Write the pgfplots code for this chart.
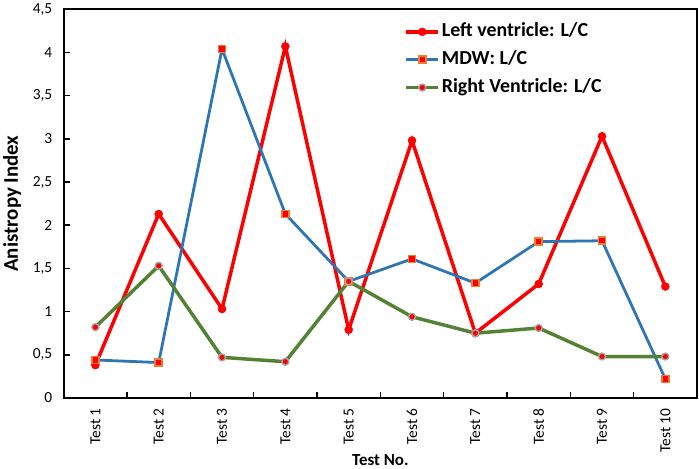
\documentclass[border=0pt]{standalone}
\usepackage{fontspec}
\setmainfont{Carlito}
\usepackage{pgfplots}
\pgfplotsset{compat=1.18}
\definecolor{cred}{RGB}{255,0,0}
\definecolor{cblue}{RGB}{46,117,182}
\definecolor{cgreen}{RGB}{84,130,53}
\definecolor{corange}{RGB}{237,125,49}
\definecolor{cgray}{RGB}{165,165,165}
\begin{document}
\begin{tikzpicture}
\begin{axis}[
  scale only axis,
  width=637pt, height=391pt,
  xmin=0.5, xmax=10.5,
  ymin=0, ymax=4.5,
  xtick={1,...,10},
  xticklabels={Test 1,Test 2,Test 3,Test 4,Test 5,Test 6,Test 7,Test 8,Test 9,Test 10},
  minor xtick={1.5,2.5,...,9.5},
  ytick={0,0.5,...,4.5},
  xtick pos=bottom, ytick pos=left,
  major x tick style={draw=none},
  minor x tick style={black, line width=1.6pt},
  minor tick length=6pt,
  major y tick style={black, line width=1.6pt},
  major tick length=6pt,
  tick align=inside,
  axis line style={black, line width=1.8pt},
  /pgf/number format/assume math mode=true,
  /pgf/number format/use comma,
  /pgf/number format/fixed,
  /pgf/number format/precision=1,
  yticklabel style={font=\fontsize{15.5}{18}\selectfont, xshift=-8pt},
  xticklabel style={font=\fontsize{15.5}{18}\selectfont, yshift=-7pt, rotate=90, anchor=east},
  xlabel={\textbf{Test No.}},
  ylabel={\textbf{Anistropy Index}},
  xlabel style={font=\fontsize{17}{20}\selectfont, at={(axis description cs:0.5,0)}, anchor=base, yshift=-67.5pt},
  ylabel style={font=\fontsize{21}{24}\selectfont, at={(axis description cs:0,0.5)}, anchor=base, yshift=46pt},
  legend style={at={(0.538,0.973)}, anchor=north west, draw=none, fill=none, inner sep=0pt,
    font=\fontsize{20}{24}\selectfont\bfseries, row sep=4pt,
    nodes={inner sep=2pt, text height=15pt, text depth=5pt}},
  legend cell align=left,
  legend image code/.code={\draw[mark repeat=2,mark phase=2] plot coordinates {(0pt,0pt) (16pt,0pt) (32pt,0pt)};},
]
\addplot[color=cred, line width=3.5pt, mark=*, mark size=4pt, mark options={fill=cred, draw=cred, line width=0.5pt}]
  coordinates {(1,0.38) (2,2.13) (3,1.03) (4,4.07) (5,0.79) (6,2.98) (7,0.75) (8,1.32) (9,3.03) (10,1.29)};
\addlegendentry{Left ventricle: L/C}
\addplot[color=cblue, line width=2.8pt, mark=square*, mark size=3.5pt, mark options={fill=cred, draw=corange, line width=1.6pt}]
  coordinates {(1,0.44) (2,0.41) (3,4.04) (4,2.13) (5,1.35) (6,1.61) (7,1.33) (8,1.81) (9,1.82) (10,0.22)};
\addlegendentry{MDW: L/C}
\addplot[color=cgreen, line width=3.5pt, mark=*, mark size=3.5pt, mark options={fill=cred, draw=cgray, line width=1.4pt}]
  coordinates {(1,0.82) (2,1.53) (3,0.47) (4,0.42) (5,1.35) (6,0.94) (7,0.75) (8,0.81) (9,0.48) (10,0.48)};
\addlegendentry{Right Ventricle: L/C}
\end{axis}
\path[use as bounding box] ([shift={(-60pt,-70pt)}]current axis.south west) rectangle ([shift={(2pt,5pt)}]current axis.north east);
\end{tikzpicture}
\end{document}
